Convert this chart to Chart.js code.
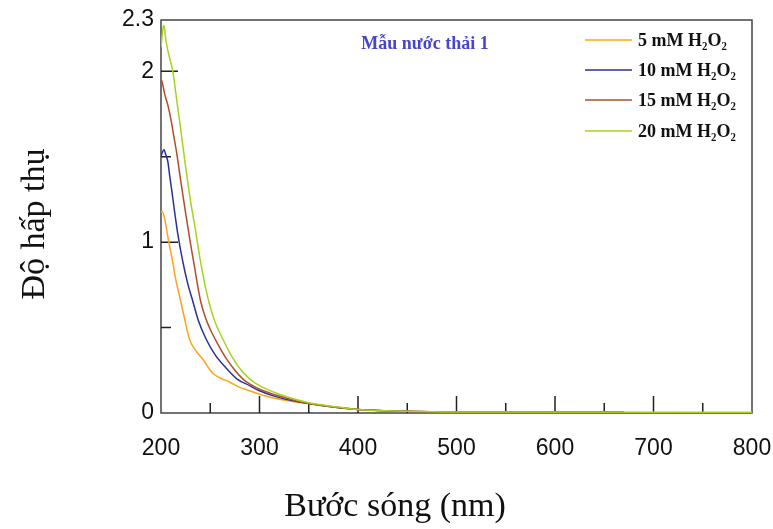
<!DOCTYPE html>
<html>
<head>
<meta charset="utf-8">
<script src="https://cdn.jsdelivr.net/npm/chart.js@4.4.0/dist/chart.umd.min.js"></script>
<style>
  html, body { margin: 0; padding: 0; background: #fff; }
  #wrap { width: 773px; height: 529px; }
</style>
</head>
<body>
<div id="wrap"><canvas id="chart-uv"></canvas></div>
<script>
// Phổ hấp thụ - mẫu nước thải 1
const tenMau = 'Mẫu nước thải 1'
const nhan = ['5 mM H₂O₂', '10 mM H₂O₂', '15 mM H₂O₂', '20 mM H₂O₂']
const mau = ['#FFA31A', '#2E2E9A', '#B04E2A', '#A6D41E']

// 5 mM
const wl_5 = [200, 201, 204, 207, 210, 212, 215, 219, 224, 229, 236, 243, 250, 253, 260, 270, 280, 290, 300, 320, 350, 400, 450, 500, 670]
const abs_5 = [1.17, 1.18, 1.13, 1.03, 0.94, 0.88, 0.78, 0.68, 0.55, 0.43, 0.36, 0.31, 0.25, 0.23, 0.205, 0.18, 0.15, 0.13, 0.11, 0.08, 0.055, 0.02, 0.01, 0.005, 0.005]
// 10 mM
const wl_10 = [200, 201, 203, 205, 207, 209, 211, 214, 217, 222, 227, 232, 238, 246, 255, 265, 277, 290, 300, 320, 350, 400, 450, 500, 670]
const abs_10 = [1.5, 1.52, 1.54, 1.51, 1.47, 1.38, 1.3, 1.17, 1.05, 0.89, 0.76, 0.66, 0.54, 0.43, 0.34, 0.27, 0.2, 0.16, 0.13, 0.09, 0.055, 0.02, 0.01, 0.005, 0.005]
// 15 mM
const wl_15 = [200, 201, 204, 207, 210, 213, 216, 220, 225, 230, 233, 240, 245, 250, 257, 265, 275, 283, 290, 300, 320, 350, 400, 450, 500, 670]
const abs_15 = [1.95, 1.94, 1.86, 1.8, 1.72, 1.62, 1.52, 1.36, 1.17, 0.99, 0.89, 0.66, 0.56, 0.49, 0.41, 0.33, 0.25, 0.2, 0.17, 0.14, 0.1, 0.055, 0.02, 0.01, 0.005, 0.005]
// 20 mM
const wl_20 = [200, 202, 203, 205, 207, 210, 212, 216, 220, 225, 230, 235, 240, 245, 250, 255, 263, 270, 280, 290, 300, 320, 350, 380, 400, 450, 500, 800]
const abs_20 = [2.14, 2.25, 2.27, 2.18, 2.12, 2.05, 2.0, 1.83, 1.66, 1.44, 1.24, 1.07, 0.89, 0.74, 0.62, 0.53, 0.43, 0.35, 0.26, 0.2, 0.16, 0.11, 0.06, 0.035, 0.02, 0.01, 0.006, 0.005]

// Vạch chia trục
const yTicks = [0, 0.5, 1, 1.5, 2, 2.3]
const yLabels = [0, 1, 2, 2.3]
const xMajor = [300, 400, 500, 600, 700]
const xMinor = [250, 350, 450, 550, 650, 750]
const yMajor = [1, 2]
const yMinor = [0.5, 1.5]

const series = [[wl_5, abs_5], [wl_10, abs_10], [wl_15, abs_15], [wl_20, abs_20]]

const datasets = series.map((s, i) => ({
  label: nhan[i],
  data: s[0].map((w, k) => ({x: w, y: s[1][k]})),
  borderColor: mau[i],
  backgroundColor: mau[i],
  borderWidth: 1.5,
  pointRadius: 0,
  cubicInterpolationMode: 'monotone',
  order: 3 - i,
}))

// khung + vạch chia bên trong
const khung = {
  id: 'khung',
  beforeDatasetsDraw(chart) {
    const {ctx, chartArea: a, scales: {x, y}} = chart
    ctx.save()
    ctx.strokeStyle = '#444'
    ctx.lineWidth = 1.5
    ctx.strokeRect(a.left, a.top, a.right - a.left, a.bottom - a.top)
    ctx.strokeStyle = '#222'
    ctx.beginPath()
    xMajor.forEach(v => { const px = x.getPixelForValue(v); ctx.moveTo(px, a.bottom); ctx.lineTo(px, a.bottom - 17) })
    xMinor.forEach(v => { const px = x.getPixelForValue(v); ctx.moveTo(px, a.bottom); ctx.lineTo(px, a.bottom - 10) })
    yMajor.forEach(v => { const py = y.getPixelForValue(v); ctx.moveTo(a.left, py); ctx.lineTo(a.left + 17, py) })
    yMinor.forEach(v => { const py = y.getPixelForValue(v); ctx.moveTo(a.left, py); ctx.lineTo(a.left + 10, py) })
    ctx.stroke()
    ctx.restore()
  },
  afterDraw(chart) {
    const {ctx} = chart
    ctx.save()
    // tên mẫu
    ctx.fillStyle = '#4545D0'
    ctx.font = 'bold 18px "Liberation Serif", "Times New Roman", serif'
    ctx.textAlign = 'center'
    ctx.textBaseline = 'middle'
    ctx.fillText(tenMau, 425, 44)
    // chú thích
    const rowY = [40, 70, 100, 131]
    ctx.font = 'bold 18px "Liberation Serif", "Times New Roman", serif'
    ctx.textAlign = 'left'
    chart.data.datasets.forEach((d, i) => {
      ctx.strokeStyle = d.borderColor
      ctx.lineWidth = 1.5
      ctx.beginPath()
      ctx.moveTo(585, rowY[i])
      ctx.lineTo(632, rowY[i])
      ctx.stroke()
      ctx.fillStyle = '#111'
      ctx.fillText(d.label, 638, rowY[i] + 1)
    })
    // tên trục
    ctx.fillStyle = '#111'
    ctx.font = '34px "Liberation Serif", "Times New Roman", serif'
    ctx.textAlign = 'center'
    ctx.fillText('Bước sóng (nm)', 395, 507)
    ctx.translate(35, 224)
    ctx.rotate(-Math.PI / 2)
    ctx.fillText('Độ hấp thụ', 0, 0)
    ctx.restore()
  }
}

const tickFont = {family: '"Liberation Sans", Arial, sans-serif', size: 23}

const config_uv = {
  type: 'line',
  data: {datasets: datasets},
  options: {
    responsive: true,
    maintainAspectRatio: false,
    animation: false,
    layout: {padding: {top: 20, right: 21, left: 0, bottom: 0}},
    plugins: {
      legend: {display: false},
      tooltip: {enabled: false},
    },
    scales: {
      x: {
        type: 'linear',
        min: 200,
        max: 800,
        grid: {display: false, drawTicks: false},
        border: {display: false},
        ticks: {stepSize: 100, color: '#111', font: tickFont, padding: 22, maxRotation: 0},
        afterFit(scale) {
          scale.height = 116
          scale.paddingLeft = 0
          scale.paddingRight = 0
        },
      },
      y: {
        type: 'linear',
        min: 0,
        max: 2.3,
        grid: {display: false, drawTicks: false},
        border: {display: false},
        afterBuildTicks(scale) { scale.ticks = yTicks.map(v => ({value: v})) },
        ticks: {
          color: '#111',
          font: tickFont,
          padding: 7,
          callback: v => yLabels.includes(v) ? String(v) : '',
        },
        afterFit(scale) {
          scale.width = 161
          scale.paddingTop = 0
          scale.paddingBottom = 0
        },
      }
    }
  },
  plugins: [khung]
}

const myChart_uv = new Chart(document.getElementById('chart-uv'), config_uv)
</script>
</body>
</html>
